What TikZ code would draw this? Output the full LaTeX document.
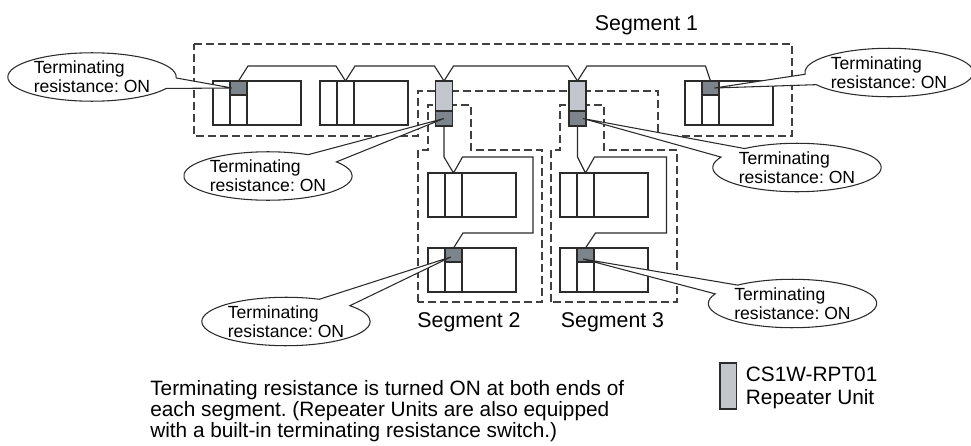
\documentclass[tikz,border=0pt]{standalone}
\usepackage{fontspec}
\setmainfont{Liberation Sans}
\usepackage{tikz}
\usetikzlibrary{calc,positioning,shapes.callouts}
\definecolor{wireink}{HTML}{2B2B2B}
\definecolor{segdash}{HTML}{404040}
\definecolor{rptlight}{HTML}{C3C6CD}
\definecolor{rptdark}{HTML}{7D848C}
\frenchspacing
\tikzset{
  plcbox/.style={
    rectangle, draw=wireink, line width=0.9pt, fill=white,
    minimum width=66pt, minimum height=33pt, inner sep=0pt,
    outer sep=0pt, anchor=north west
  },
  termbox/.style={
    rectangle, draw=wireink, line width=0.9pt, fill=rptdark,
    minimum width=12.75pt, minimum height=10.5pt, inner sep=0pt,
    outer sep=0pt, anchor=north west
  },
  rpttop/.style={
    rectangle, draw=wireink, line width=0.9pt, fill=rptlight,
    minimum width=12.75pt, minimum height=22.5pt, inner sep=0pt, outer sep=0pt
  },
  rptbot/.style={rpttop, fill=rptdark, minimum height=11.25pt},
  segline/.style={draw=segdash, line width=0.85pt, dash pattern=on 6pt off 3pt},
  wire/.style={draw=wireink, line width=0.85pt},
  ballon/.style={
    ellipse callout, draw=wireink, line width=0.8pt, fill=white,
    align=left, inner sep=1pt, callout pointer arc=26,
    font=\fontsize{13.2}{14}\selectfont
  },
  seglabel/.style={font=\fontsize{16}{18}\selectfont, inner sep=0pt, anchor=base},
}

\begin{document}
\begin{tikzpicture}[x=0.75pt, y=-0.75pt]
  \useasboundingbox (0,0) rectangle (971,446);

  % segment outlines
  \draw[segline] (194,44) -- (792,44) -- (792,136) -- (658,136) -- (658,91)
    -- (418,91) -- (418,136) -- (194,136) -- cycle;
  \draw[segline] (418,302) -- (418,150) -- (428,150) -- (428,105) -- (471,105)
    -- (471,150) -- (542,150) -- (542,302) -- cycle;
  \draw[segline] (551,302) -- (551,150) -- (560,150) -- (560,105) -- (604,105)
    -- (604,150) -- (677,150) -- (677,302) -- cycle;

  % units
  \foreach \n/\x/\y in {p1/213/81, p2/320/81, p6/685/81, p3/428/173, p4/428/248, p5/560/173, p7/560/248} {
    \node[plcbox] (\n) at (\x,\y) {};
    \foreach \d in {12.75pt, 25.5pt}
      \draw[wire, line width=0.9pt] ([xshift=\d]\n.north west) -- ([xshift=\d]\n.south west);
  }
  \foreach \n/\b in {t1/p1, t4/p4, t6/p6, t7/p7}
    \node[termbox] (\n) at ([xshift=12.75pt]\b.north west) {};
  \foreach \n/\b in {p2tap/p2, p3tap/p3, p5tap/p5}
    \coordinate (\n) at ([xshift=19.125pt]\b.north west);

  % repeater units
  \node[rpttop, anchor=north] (r1a) at (444,81) {};
  \node[rptbot, below=0pt of r1a] (r1b) {};
  \node[rpttop, anchor=north] (r2a) at (577.5,81) {};
  \node[rptbot, below=0pt of r2a] (r2b) {};

  % segment 1 bus
  \draw[wire] (t1.north) -- ++(9.5,-15)
    -- ($(p2tap)+(-9.5,-15)$) -- (p2tap) -- ++(9.5,-15)
    -- ($(r1a.north)+(-9.5,-15)$) -- (r1a.north) -- ++(9.5,-15)
    -- ($(r2a.north)+(-9.5,-15)$) -- (r2a.north) -- ++(9.5,-15)
    -- ($(t6.north)+(-5,-15)$) -- (t6.north);

  % segment 2 and 3 buses
  \draw[wire] (r1b.south) -- ++(0,31) -- (p3tap) -- ++(9,-16) -- ++(70.5,0)
    -- ++(0,76) -- ++(-70,0) -- (t4.north);
  \draw[wire] (r2b.south) -- ++(0,31) -- (p5tap) -- ++(9,-16) -- ++(72,0)
    -- ++(0,76) -- ++(-71,0) -- (t7.north);

  % callouts
  \node[ballon, callout absolute pointer={([xshift=-4.8pt]t1.center)}] (c1) at (92,77) {Terminating\\resistance: ON};
  \node[ballon, callout absolute pointer={([xshift=3pt]t6.center)}] (c4) at (889,72.5) {Terminating\\resistance: ON};
  \node[ballon, callout absolute pointer={(r1b.center)}] (c2) at (268,176) {Terminating\\resistance: ON};
  \node[ballon, callout absolute pointer={([xshift=4pt]r2b.center)}] (c3) at (797,167.5) {Terminating\\resistance: ON};
  \node[ballon, callout absolute pointer={([xshift=-2pt,yshift=-1.5pt]t4.center)}] (c5) at (286,321.5) {Terminating\\resistance: ON};
  \node[ballon, callout absolute pointer={([xshift=-2pt,yshift=-3pt]t7.center)}] (c6) at (792.5,303.5) {Terminating\\resistance: ON};

  % labels
  \node[seglabel] (s1) at (646.5,30) {Segment 1};
  \node[seglabel] (s2) at (469,327) {Segment 2};
  \node[seglabel] (s3) at (612.5,327) {Segment 3};

  \node[anchor=north west, align=left, inner sep=0pt, font=\fontsize{15.6}{15.75}\selectfont] (note) at (150,380)
    {Terminating resistance is turned ON at both ends of\\each segment. (Repeater Units are also equipped\\with a built-in terminating resistance switch.)};

  % legend
  \node[rpttop, minimum width=12.5pt, minimum height=34.5pt, anchor=north west] (legbox) at (720,363) {};
  \node[anchor=north west, align=left, inner sep=0pt, font=\fontsize{15.6}{17.6}\selectfont] (legtext) at (745.7,366.5)
    {CS1W-RPT01\\Repeater Unit};
\end{tikzpicture}
\end{document}
